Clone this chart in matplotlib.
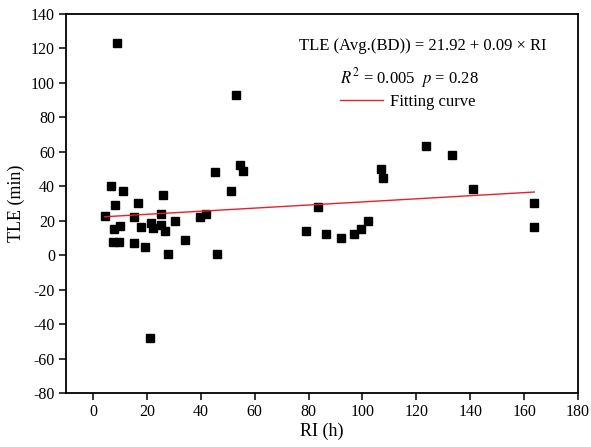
import matplotlib
matplotlib.use("Agg")
import matplotlib.pyplot as plt
import numpy as np

plt.rcParams['font.family'] = ['Liberation Serif', 'DejaVu Serif']
plt.rcParams['mathtext.fontset'] = 'stix'
plt.rcParams['axes.unicode_minus'] = False

# RI (h) vs TLE (min)
ri = [8.8, 53.2, 6.7, 11.2, 8.3, 16.8, 26.0, 4.4, 15.4, 25.2,
      7.9, 10.1, 17.8, 21.5, 22.1, 25.2, 26.8, 30.6, 7.5, 9.6,
      15.2, 19.3, 27.9, 34.3, 45.2, 54.6, 55.8, 51.2, 39.7, 41.9,
      46.0, 21.0, 79.0, 83.6, 86.4, 92.1, 97.0, 99.4, 102.2, 106.8,
      107.5, 123.6, 133.3, 141.0, 163.8, 163.5]
tle = [123.0, 92.9, 40.3, 37.3, 29.0, 30.1, 35.1, 22.7, 22.4, 23.9,
       15.4, 16.8, 16.5, 18.5, 16.0, 17.5, 13.9, 20.0, 7.7, 7.8,
       7.1, 4.9, 0.9, 8.8, 48.1, 52.2, 49.1, 37.1, 22.4, 23.9,
       0.7, -48.0, 14.0, 28.2, 12.5, 9.8, 12.3, 15.2, 19.8, 50.2,
       44.8, 63.4, 58.2, 38.6, 30.5, 16.6]

intercept = 21.92
slope = 0.09

fig = plt.figure(figsize=(5.91, 4.47), dpi=100)
ax = fig.add_axes([0.1117, 0.1208, 0.8663, 0.8479])

ax.plot(ri, tle, 's', color='black', markersize=6.3, linestyle='none')

xfit = np.array([min(ri), max(ri)])
line, = ax.plot(xfit, intercept + slope * xfit, color='#e8202a', lw=1.0)

ax.set_xlim(-10, 180)
ax.set_ylim(-80, 140)
ax.set_xticks(np.arange(0, 181, 20))
ax.set_yticks(np.arange(-80, 141, 20))

for s in ax.spines.values():
    s.set_linewidth(1.3)
ax.tick_params(direction='out', length=5, width=1.1, labelsize=11.5, pad=3)

ax.set_xlabel('RI (h)', fontsize=13, labelpad=2)
ax.set_ylabel('TLE (min)', fontsize=13, labelpad=4)

ax.text(0.697, 0.916, 'TLE (Avg.(BD)) = 21.92 + 0.09 × RI', transform=ax.transAxes,
        ha='center', va='center', fontsize=12)
ax.text(0.67, 0.831, r'$R^2$ = 0.005  $p$ = 0.28', transform=ax.transAxes,
        ha='center', va='center', fontsize=12)
ax.legend([line], ['Fitting curve'], loc='center', bbox_to_anchor=(0.667, 0.768),
          frameon=False, fontsize=12, handlelength=2.6, handletextpad=0.4)

fig.savefig('out.png', dpi=100)
